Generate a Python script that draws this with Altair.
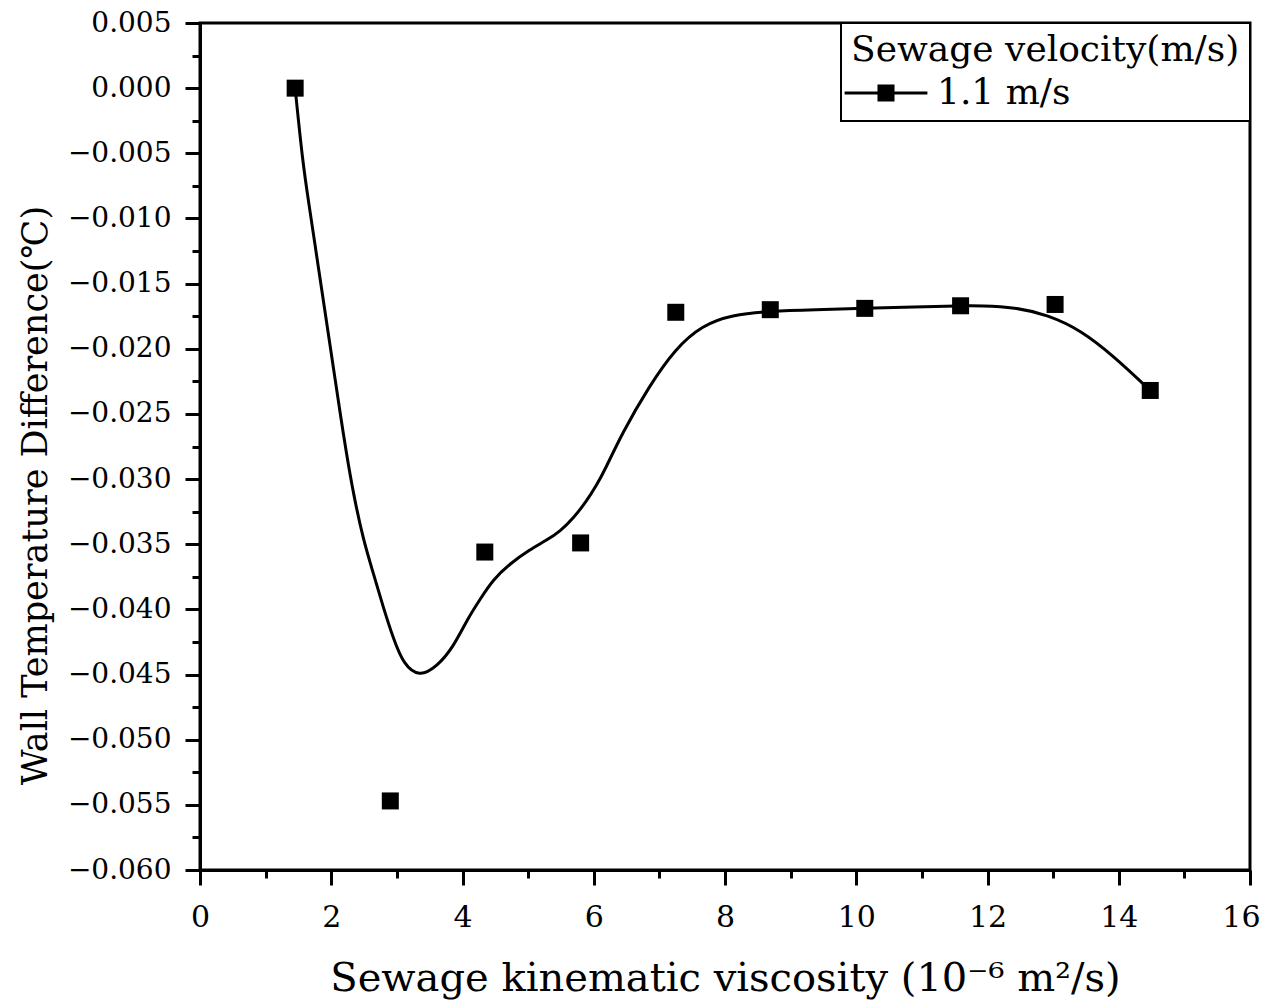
import altair as alt
import pandas as pd

# measured points
pt_x = [1.45, 2.90, 4.34, 5.80, 7.25, 8.69, 10.13, 11.59, 13.03, 14.48]
pt_y = [0.0000, -0.0547, -0.0356, -0.0349, -0.0172, -0.0170, -0.0169, -0.0167, -0.0166, -0.0232]
series_name = "1.1 m/s"

# smoothed curve
curve_x = [1.45, 1.565, 1.66, 1.755, 1.85, 1.945, 2.04, 2.135, 2.23, 2.34, 2.49, 2.64, 2.79, 2.95,
           3.10, 3.34, 3.61, 3.86, 4.08, 4.27, 4.47, 4.72, 5.03, 5.28, 5.49, 5.69, 5.89, 6.04,
           6.17, 6.43, 6.84, 7.24, 7.65, 8.10, 8.69, 9.37, 10.13, 10.89, 11.59, 11.90, 12.41,
           12.92, 13.43, 13.93, 14.48]
curve_y = [0.0000, -0.0057, -0.0089, -0.0121, -0.0153, -0.0185, -0.0217, -0.0249, -0.0280, -0.0312,
           -0.0347, -0.0372, -0.0398, -0.0423, -0.0442, -0.0452, -0.0444, -0.0429, -0.0407, -0.0392,
           -0.0377, -0.0365, -0.0354, -0.0347, -0.0340, -0.0330, -0.0317, -0.0305, -0.0293, -0.0265,
           -0.0229, -0.0200, -0.0182, -0.0174, -0.0171, -0.0170, -0.0169, -0.0168, -0.0167, -0.0167,
           -0.0168, -0.0174, -0.0186, -0.0206, -0.0232]

x_ticks = [0, 1, 2, 3, 4, 5, 6, 7, 8, 9, 10, 11, 12, 13, 14, 15, 16]
y_ticks = [-0.060, -0.0575, -0.055, -0.0525, -0.050, -0.0475, -0.045, -0.0425, -0.040, -0.0375,
           -0.035, -0.0325, -0.030, -0.0275, -0.025, -0.0225, -0.020, -0.0175, -0.015, -0.0125,
           -0.010, -0.0075, -0.005, -0.0025, 0.000, 0.0025, 0.005]

x_title = "Sewage kinematic viscosity (10⁻⁶ m²/s)"
y_title = "Wall Temperature Difference(℃)"
legend_title = "Sewage velocity(m/s)"

FONT = "DejaVu Serif"

pts = pd.DataFrame({"x": pt_x, "y": pt_y, "series": [series_name] * len(pt_x)})
crv = pd.DataFrame({"x": curve_x, "y": curve_y})

x_major = "datum.value % 2 == 0"
x_last = "datum.value == 16"
y_major = "abs(round(datum.value * 10000)) % 50 == 0"

x_enc = alt.X(
    "x:Q",
    scale=alt.Scale(domain=[0, 16], nice=False, zero=False),
    axis=alt.Axis(
        values=x_ticks,
        title=x_title,
        labelExpr=f"{x_major} ? datum.label : ''",
        tickSize={"condition": {"test": x_major, "value": 15}, "value": 8},
        labelAlign={"condition": {"test": x_last, "value": "right"}, "value": "center"},
        labelOffset={"condition": {"test": x_last, "value": 10}, "value": 0},
        labelPadding=17,
        labelFlush=False,
        labelFontSize=30,
        titleFontSize=40,
        titleBaseline="alphabetic",
        titleY=120,
    ),
)
y_enc = alt.Y(
    "y:Q",
    scale=alt.Scale(domain=[-0.060, 0.005], nice=False, zero=False),
    axis=alt.Axis(
        values=y_ticks,
        format=".3f",
        title=y_title,
        labelExpr=f"{y_major} ? datum.label : ''",
        tickSize={"condition": {"test": y_major, "value": 15}, "value": 8},
        labelPadding=14,
        labelFlush=False,
        labelFontSize=28,
        titleFontSize=35,
        titleAngle=270,
        titleAlign="center",
        titleBaseline="alphabetic",
        titleX=-154,
        titleY=472,
    ),
)

line = alt.Chart(crv).mark_line(
    color="black", strokeWidth=3, interpolate="basis"
).encode(x=x_enc, y=y_enc)

points = alt.Chart(pts).mark_point(
    shape="square", filled=True, size=289, opacity=1
).encode(
    x=x_enc,
    y=y_enc,
    color=alt.Color(
        "series:N",
        scale=alt.Scale(domain=[series_name], range=["black"]),
        legend=alt.Legend(title=legend_title),
    ),
)

chart = alt.layer(line, points).properties(
    width=1050,
    height=847,
    autosize=alt.AutoSizeParams(type="none"),
    padding={"left": 192, "top": 15, "right": 11, "bottom": 130},
).configure_view(
    stroke="black", strokeWidth=3
).configure_axis(
    grid=False,
    domainColor="black",
    domainWidth=3,
    tickColor="black",
    tickWidth=3,
    labelFont=FONT,
    labelColor="black",
    titleFont=FONT,
    titleFontWeight="normal",
    titleColor="black",
).configure_legend(
    orient="top-right",
    offset=0,
    padding=10,
    strokeColor="black",
    strokeWidth=2,
    fillColor="white",
    titleFont=FONT,
    titleFontSize=36,
    titleFontWeight="normal",
    titleColor="black",
    titleLimit=600,
    titlePadding=6,
    labelFont=FONT,
    labelFontSize=36,
    labelColor="black",
    labelLimit=400,
    symbolType="M-4.6,0H4.6M-0.78,-0.78H0.78V0.78H-0.78Z",
    symbolSize=324,
    symbolStrokeWidth=3,
    symbolStrokeColor="black",
    symbolFillColor="black",
    symbolOffset=17,
    labelOffset=33,
)

chart.save("out.html", embed_options={"renderer": "svg", "actions": False})
